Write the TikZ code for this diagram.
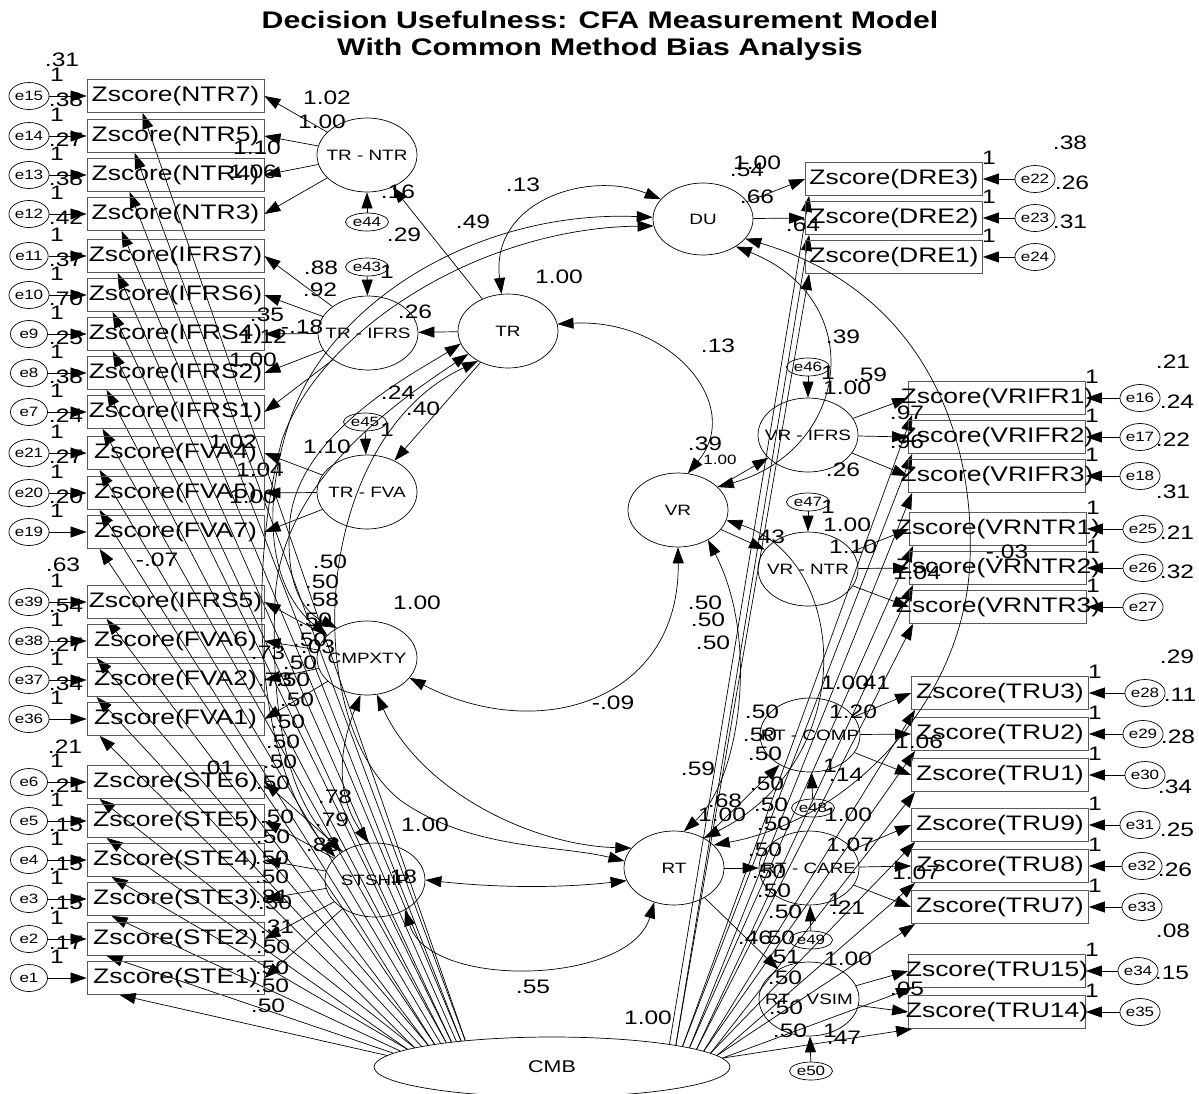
\documentclass[tikz,border=0pt]{standalone}
\usepackage{fontspec}
\setmainfont{Liberation Sans}[FakeStretch=1.26]
\usetikzlibrary{arrows.meta,shapes.geometric}
\begin{document}
\begin{tikzpicture}[x=1pt,y=-1pt,
  obs/.style={draw=black!65, line width=0.8pt, rectangle, minimum width=177pt, minimum height=33pt, inner sep=0pt, font=\fontsize{21}{21}\selectfont},
  lat/.style={draw, line width=0.7pt, ellipse, minimum width=100pt, minimum height=74pt, inner sep=0pt, font=\fontsize{15}{15}\selectfont},
  err/.style={draw, line width=0.7pt, ellipse, minimum width=37pt, minimum height=27pt, inner sep=0pt, font=\fontsize{13.5}{13.5}\selectfont},
  serr/.style={draw, line width=0.7pt, ellipse, minimum width=43pt, minimum height=18pt, inner sep=0pt, font=\fontsize{13.5}{13.5}\selectfont},
  arr/.style={-{Triangle[length=16pt,width=11pt]}, line width=0.7pt},
  cov/.style={{Triangle[length=16pt,width=11pt]}-{Triangle[length=16pt,width=11pt]}, line width=0.7pt},
  num/.style={inner sep=0pt, font=\fontsize{19.5}{19.5}\selectfont},
  snum/.style={inner sep=0pt, font=\fontsize{13.5}{13.5}\selectfont},
  ttl/.style={inner sep=0pt, font=\bfseries\fontsize{24}{24}\selectfont}
]
\useasboundingbox (0,0) rectangle (1199,1093);
\fill[white] (0,0) rectangle (1199,1093);

% title
\node[ttl] (title1) at (600,20) {Decision Usefulness: CFA Measurement Model};
\node[ttl] (title2) at (600,49) {With Common Method Bias Analysis};

% latent variables
\node[lat, minimum width=356pt, minimum height=60pt, font=\fontsize{17}{17}\selectfont] (CMB) at (552,1067) {CMB};
\node[lat] (TRNTR) at (367,155) {\makebox[0pt]{TR - NTR}};
\node[lat] (TRIFRS) at (368,333) {\makebox[0pt]{TR - IFRS}};
\node[lat] (TRFVA) at (367,492) {\makebox[0pt]{TR - FVA}};
\node[lat] (CMPXTY) at (367,658) {\makebox[0pt]{CMPXTY}};
\node[lat] (STSHIP) at (375,880) {\makebox[0pt]{STSHIP}};
\node[lat] (TR) at (508,331) {\makebox[0pt]{TR}};
\node[lat, minimum height=72pt] (DU) at (703,219) {\makebox[0pt]{DU}};
\node[lat] (VR) at (678,510) {\makebox[0pt]{VR}};
\node[lat] (VRIFRS) at (808,435) {\makebox[0pt]{VR - IFRS}};
\node[lat] (VRNTR) at (808,569) {\makebox[0pt]{VR - NTR}};
\node[lat] (RTCOMP) at (810,735) {\makebox[0pt]{RT - COMP}};
\node[lat] (RTCARE) at (809,868) {\makebox[0pt]{RT - CARE}};
\node[lat] (RTVSIM) at (809,999) {\makebox[0pt]{RT - VSIM}};
\node[lat] (RT) at (674,868) {\makebox[0pt]{RT}};

% small disturbance terms
\node[serr] (e44) at (367,222) {e44};
\node[serr] (e43) at (367,267) {e43};
\node[serr] (e45) at (365,422) {e45};
\node[serr] (e46) at (808,367) {e46};
\node[serr] (e47) at (808,502) {e47};
\node[serr] (e48) at (813,808) {e48};
\node[serr] (e49) at (811,940) {e49};
\node[serr] (e50) at (811,1071) {e50};
\draw[arr] (e44) -- (TRNTR);
\draw[arr] (e43) -- (TRIFRS);
\draw[arr] (e45) -- (TRFVA);
\draw[arr] (e46) -- (VRIFRS);
\draw[arr] (e47) -- (VRNTR);
\draw[arr] (e48) -- (RTCOMP);
\draw[arr] (e49) -- (RTCARE);
\draw[arr] (e50) -- (RTVSIM);

% left indicators
\foreach \i/\lab/\y/\e/\v/\dx/\ang in {
 1/NTR7/96/e15/.38/56/163, 2/NTR5/136/e14/.27/48/163.6, 3/NTR4/175/e13/.38/43/164.2,
 4/NTR3/214/e12/.42/35/164.8, 5/IFRS7/256/e11/.37/31/165.4, 6/IFRS6/295/e10/.70/26/166,
 7/IFRS4/334/e9/.25/26/166.6, 8/IFRS2/373/e8/.38/20/167.2, 9/IFRS1/412/e7/.24/16/167.8,
 10/FVA4/453/e21/.27/13/168.4, 11/FVA5/493/e20/.20/13/169, 12/FVA7/532/e19//13/169.6,
 13/IFRS5/602/e39/.54/20/170.2, 14/FVA6/641/e38/.27/10/170.8, 15/FVA2/680/e37/.34/10/171.4,
 16/FVA1/719/e36//13/172, 17/STE6/782/e6/.21/13/172.6, 18/STE5/821/e5/.15/20/173.2,
 19/STE4/860/e4/.15/25/173.8, 20/STE3/899/e3/.15/25/174.4, 21/STE2/939/e2/.17/20/175,
 22/STE1/978/e1//33/176}{
  \node[obs] (L\i) at (175.5,\y) {\makebox[0pt]{Zscore(\lab)}};
  \node[err] (eL\i) at (29,\y) {\e};
  \draw[arr] (eL\i) -- (L\i);
  \node[num] (oneL\i) at (57,\y-21) {1};
  \node[num] (vL\i) at (66,\y+4) {\v};
  \draw[arr] (CMB.\ang) -- ([xshift=\dx pt]L\i.south west);
}

% right indicators
\foreach \i/\lab/\y/\e/\bx/\ex/\ang in {
 1/DRE3/179/e22/894/1035/11, 2/DRE2/218/e23/894/1035/10.5, 3/DRE1/257/e24/894/1035/10,
 4/VRIFR1/398/e16/997/1140/9.5, 5/VRIFR2/437/e17/997/1140/9, 6/VRIFR3/476/e18/997/1140/8.5,
 7/VRNTR1/529/e25/998/1143/8, 8/VRNTR2/568/e26/998/1143/7.5, 9/VRNTR3/607/e27/998/1143/7,
 10/TRU3/693/e28/1000/1145/6.5, 11/TRU2/734/e29/1000/1143/6, 12/TRU1/775/e30/1000/1145/5.5,
 13/TRU9/825/e31/1000/1140/5, 14/TRU8/866/e32/1000/1142/4.5, 15/TRU7/907/e33/1000/1142/4,
 16/TRU15/971/e34/997/1138/3.5, 17/TRU14/1012/e35/997/1140/3}{
  \node[obs] (R\i) at (\bx,\y) {\makebox[0pt]{Zscore(\lab)}};
  \node[err] (eR\i) at (\ex,\y) {\e};
  \draw[arr] (eR\i) -- (R\i);
  \node[num] (oneR\i) at (\bx+95,\y-21) {1};
  \draw[arr] (CMB.\ang) -- ([xshift=4pt]R\i.south west);
}

% second-order paths
\draw[arr] (TR) -- (TRNTR);
\draw[arr] (TR) -- (TRIFRS);
\draw[arr] (TR) -- (TRFVA);
\draw[arr] (VR) -- (VRIFRS);
\draw[arr] (VR) -- (VRNTR);
\draw[arr] (RT) -- (RTCOMP);
\draw[arr] (RT) -- (RTCARE);
\draw[arr] (RT) -- (RTVSIM);

% loadings
\foreach \j in {1,...,4} \draw[arr] (TRNTR) -- (L\j.east);
\foreach \j in {5,...,9} \draw[arr] (TRIFRS) -- (L\j.east);
\foreach \j in {10,...,12} \draw[arr] (TRFVA) -- (L\j.east);
\foreach \j in {13,...,16} \draw[arr] (CMPXTY) -- (L\j.east);
\foreach \j in {17,...,22} \draw[arr] (STSHIP) -- (L\j.east);
\draw[arr] (DU) -- (R1.west);
\draw[arr] (DU) -- (R2.west);
\foreach \j in {4,...,6} \draw[arr] (VRIFRS) -- (R\j.west);
\foreach \j in {7,...,9} \draw[arr] (VRNTR) -- (R\j.west);
\foreach \j in {10,...,12} \draw[arr] (RTCOMP) -- (R\j.west);
\foreach \j in {13,...,15} \draw[arr] (RTCARE) -- (R\j.west);
\foreach \j in {16,17} \draw[arr] (RTVSIM) -- (R\j.west);

% covariances
\draw[cov] (TR.100) .. controls (490,200) and (590,170) .. (DU.155);
\draw[cov] (TR.8) .. controls (670,318) and (745,405) .. (VR.75);
\draw[cov] (VR.-90) .. controls (680,700) and (540,745) .. (CMPXTY.-25);
\draw[cov] (CMPXTY.-75) .. controls (420,790) and (530,845) .. (RT.155);
\draw[cov] (STSHIP.0) .. controls (500,888) and (560,888) .. (RT.195);
\draw[cov] (STSHIP.-45) .. controls (430,990) and (630,985) .. (RT.-120);
\draw[cov] (TR.225) .. controls (310,440) and (300,720) .. (400,800) .. controls (470,850) and (560,845) .. (RT.172);
\draw[cov] (DU.178) .. controls (480,210) and (330,300) .. (290,420) .. controls (260,510) and (270,590) .. (CMPXTY.150);
\draw[cov] (DU.188) .. controls (480,228) and (320,330) .. (282,440) .. controls (250,560) and (250,760) .. (STSHIP.150);
\draw[cov] (TR.195) .. controls (420,370) and (300,430) .. (290,520) .. controls (285,580) and (300,610) .. (CMPXTY.135);
\draw[cov] (TR.210) .. controls (400,400) and (280,480) .. (275,600) .. controls (270,720) and (290,800) .. (STSHIP.140);
\draw[cov] (CMPXTY.-100) .. controls (335,760) and (340,800) .. (STSHIP.100);
\draw[cov] (DU.-40) .. controls (870,300) and (850,450) .. (VR.30);
\draw[cov] (DU.-25) .. controls (920,290) and (975,430) .. (970,560) .. controls (965,700) and (850,820) .. (RT.30);
\draw[cov] (VR.-45) .. controls (760,640) and (740,780) .. (RT.75);
\draw[cov] (VR.-12) .. controls (850,560) and (860,760) .. (RT.45);

% labels left/middle
\foreach \x/\y/\t [count=\k] in {
 62/60/.31, 63/565/.63, 65/747/.21,
 327/98/1.02, 322/122/1.00, 257/148/1.10, 253/172/1.06, 398/192/.16, 404/235/.29,
 321/268/.88, 320/290/.92, 387/272/1, 267/315/.35, 302/327/-.18, 263/337/1.12,
 415/312/.26, 253/360/1.00, 523/185/.13, 473/222/.49, 559/277/1.00, 398/393/.24,
 423/409/.40, 387/430/1, 327/447/1.10, 233/442/1.02, 260/470/1.04, 253/497/1.00,
 157/560/-.07, 330/562/.50, 322/582/.50, 322/600/.58, 315/620/.50, 310/640/.50,
 318/647/.03, 268/653/.73, 300/663/.50, 275/680/.73, 293/680/.50, 297/700/.50,
 288/722/.50, 283/742/.50, 280/762/.50, 217/768/.01, 273/783/.50, 335/797/.78,
 332/820/.79, 277/817/.50, 273/837/.50, 323/845/.83, 400/877/.18, 272/858/.50,
 272/877/.50, 272/897/.81, 275/903/.50, 277/927/.31, 273/947/.50, 272/968/.50,
 272/986/.50, 268/1006/.50, 417/603/1.00, 425/825/1.00, 533/987/.55,
 648/1018/1.00, 613/703/-.09}{
  \node[num] (ml\k) at (\x,\y) {\t};
}

% labels right/middle
\foreach \x/\y/\t [count=\k] in {
 1070/143/.38, 1072/183/.26, 1070/222/.31, 1173/362/.21, 1177/402/.24, 1173/440/.22,
 1173/492/.31, 1177/533/.21, 1177/572/.32, 1177/657/.29, 1180/695/.11, 1178/737/.28,
 1175/787/.34, 1177/830/.25, 1175/870/.26, 1173/931/.08, 1172/973/.15,
 757/163/1.00, 747/170/.54, 757/197/.66, 803/225/.64, 718/346/.13, 843/337/.39,
 828/373/1, 847/388/1.00, 870/375/.59, 907/413/.97, 907/442/.96, 705/444/.39,
 843/470/.26, 828/507/1, 847/525/1.00, 853/547/1.10, 768/537/.43, 1007/552/-.03,
 917/573/1.04, 705/603/.50, 708/620/.50, 713/643/.50, 873/683/.41, 845/683/1.00,
 762/712/.50, 853/712/1.20, 760/735/.50, 919/742/1.06, 765/754/.50, 698/769/.59,
 846/775/.14, 830/766/1, 767/784/.50, 725/801/.68, 722/815/1.00, 771/805/.50,
 848/815/1.00, 774/824/.50, 850/845/1.07, 765/850/.50, 769/872/.50, 916/873/1.07,
 774/891/.50, 835/900/1, 848/908/.21, 785/912/.50, 755/938/.46, 778/938/.50,
 783/957/.51, 848/959/1.00, 785/978/.50, 907/989/.05, 786/1008/.50, 790/1031/.50,
 830/1031/1, 844/1038/.47}{
  \node[num] (mr\k) at (\x,\y) {\t};
}
\node[snum] (vrvar) at (720,460) {1.00};
\end{tikzpicture}
\end{document}
